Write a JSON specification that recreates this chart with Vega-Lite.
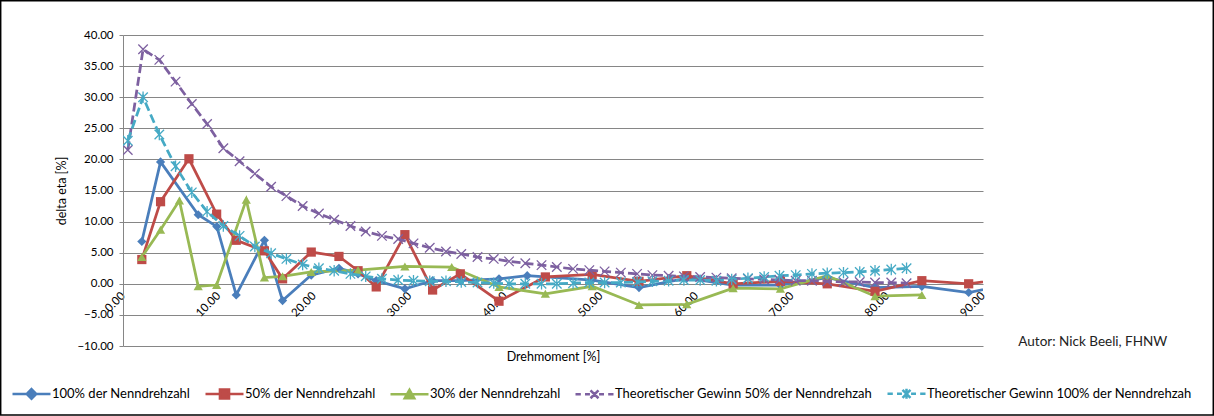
{
  "$schema": "https://vega.github.io/schema/vega-lite/v6.json",
  "width": 860,
  "height": 311,
  "autosize": {"type": "none"},
  "padding": {"left": 123, "top": 35, "right": 231, "bottom": 70},
  "background": "white",
  "config": {
    "font": "Lato",
    "view": {"stroke": null},
    "axis": {"labelColor": "#000", "titleColor": "#000", "titleFontWeight": "normal", "labelOverlap": false, "labelFlush": false, "labelBound": false}
  },
  "datasets": {
    "meas": [
      {"s": "100% der Nenndrehzahl", "x": 1.97, "y": 6.8},
      {"s": "100% der Nenndrehzahl", "x": 3.93, "y": 19.6},
      {"s": "100% der Nenndrehzahl", "x": 7.87, "y": 11.1},
      {"s": "100% der Nenndrehzahl", "x": 9.82, "y": 9.2},
      {"s": "100% der Nenndrehzahl", "x": 11.85, "y": -1.8},
      {"s": "100% der Nenndrehzahl", "x": 14.8, "y": 7.0},
      {"s": "100% der Nenndrehzahl", "x": 16.7, "y": -2.7},
      {"s": "100% der Nenndrehzahl", "x": 19.7, "y": 1.4},
      {"s": "100% der Nenndrehzahl", "x": 22.6, "y": 2.5},
      {"s": "100% der Nenndrehzahl", "x": 24.6, "y": 1.6},
      {"s": "100% der Nenndrehzahl", "x": 26.5, "y": 0.5},
      {"s": "100% der Nenndrehzahl", "x": 29.5, "y": -0.8},
      {"s": "100% der Nenndrehzahl", "x": 32.4, "y": 0.5},
      {"s": "100% der Nenndrehzahl", "x": 35.3, "y": 0.5},
      {"s": "100% der Nenndrehzahl", "x": 39.35, "y": 0.8},
      {"s": "100% der Nenndrehzahl", "x": 42.3, "y": 1.3},
      {"s": "100% der Nenndrehzahl", "x": 49.1, "y": 0.6},
      {"s": "100% der Nenndrehzahl", "x": 54.0, "y": -0.6},
      {"s": "100% der Nenndrehzahl", "x": 59.0, "y": 0.9},
      {"s": "100% der Nenndrehzahl", "x": 63.85, "y": -0.2},
      {"s": "100% der Nenndrehzahl", "x": 68.8, "y": -0.2},
      {"s": "100% der Nenndrehzahl", "x": 73.7, "y": 1.0},
      {"s": "100% der Nenndrehzahl", "x": 78.7, "y": -0.6},
      {"s": "100% der Nenndrehzahl", "x": 83.6, "y": -0.4},
      {"s": "100% der Nenndrehzahl", "x": 88.5, "y": -1.4},
      {"s": "100% der Nenndrehzahl", "x": 93.4, "y": 0.1},
      {"s": "50% der Nenndrehzahl", "x": 1.97, "y": 3.9},
      {"s": "50% der Nenndrehzahl", "x": 3.93, "y": 13.2},
      {"s": "50% der Nenndrehzahl", "x": 6.9, "y": 20.1},
      {"s": "50% der Nenndrehzahl", "x": 9.8, "y": 11.2},
      {"s": "50% der Nenndrehzahl", "x": 11.85, "y": 7.0},
      {"s": "50% der Nenndrehzahl", "x": 14.8, "y": 5.3},
      {"s": "50% der Nenndrehzahl", "x": 16.7, "y": 0.8},
      {"s": "50% der Nenndrehzahl", "x": 19.7, "y": 5.1},
      {"s": "50% der Nenndrehzahl", "x": 22.6, "y": 4.4},
      {"s": "50% der Nenndrehzahl", "x": 24.6, "y": 2.1},
      {"s": "50% der Nenndrehzahl", "x": 26.5, "y": -0.5},
      {"s": "50% der Nenndrehzahl", "x": 29.5, "y": 7.9},
      {"s": "50% der Nenndrehzahl", "x": 32.4, "y": -1.0},
      {"s": "50% der Nenndrehzahl", "x": 35.3, "y": 1.6},
      {"s": "50% der Nenndrehzahl", "x": 39.35, "y": -2.8},
      {"s": "50% der Nenndrehzahl", "x": 44.2, "y": 1.1},
      {"s": "50% der Nenndrehzahl", "x": 49.1, "y": 1.5},
      {"s": "50% der Nenndrehzahl", "x": 54.0, "y": 0.4},
      {"s": "50% der Nenndrehzahl", "x": 59.0, "y": 1.3},
      {"s": "50% der Nenndrehzahl", "x": 63.85, "y": 0.0},
      {"s": "50% der Nenndrehzahl", "x": 68.8, "y": 0.4},
      {"s": "50% der Nenndrehzahl", "x": 73.7, "y": 0.0},
      {"s": "50% der Nenndrehzahl", "x": 78.7, "y": -1.2},
      {"s": "50% der Nenndrehzahl", "x": 83.6, "y": 0.5},
      {"s": "50% der Nenndrehzahl", "x": 88.5, "y": 0.0},
      {"s": "50% der Nenndrehzahl", "x": 93.4, "y": 1.0},
      {"s": "30% der Nenndrehzahl", "x": 1.97, "y": 4.3},
      {"s": "30% der Nenndrehzahl", "x": 3.93, "y": 8.7},
      {"s": "30% der Nenndrehzahl", "x": 5.9, "y": 13.4},
      {"s": "30% der Nenndrehzahl", "x": 7.87, "y": -0.4},
      {"s": "30% der Nenndrehzahl", "x": 9.8, "y": -0.2},
      {"s": "30% der Nenndrehzahl", "x": 12.9, "y": 13.5},
      {"s": "30% der Nenndrehzahl", "x": 14.8, "y": 1.0},
      {"s": "30% der Nenndrehzahl", "x": 16.7, "y": 1.2},
      {"s": "30% der Nenndrehzahl", "x": 19.7, "y": 1.9},
      {"s": "30% der Nenndrehzahl", "x": 24.6, "y": 2.2},
      {"s": "30% der Nenndrehzahl", "x": 29.5, "y": 2.8},
      {"s": "30% der Nenndrehzahl", "x": 34.4, "y": 2.7},
      {"s": "30% der Nenndrehzahl", "x": 39.35, "y": -0.5},
      {"s": "30% der Nenndrehzahl", "x": 44.2, "y": -1.6},
      {"s": "30% der Nenndrehzahl", "x": 49.1, "y": -0.4},
      {"s": "30% der Nenndrehzahl", "x": 54.0, "y": -3.4},
      {"s": "30% der Nenndrehzahl", "x": 59.0, "y": -3.3},
      {"s": "30% der Nenndrehzahl", "x": 63.85, "y": -0.7},
      {"s": "30% der Nenndrehzahl", "x": 68.8, "y": -0.8},
      {"s": "30% der Nenndrehzahl", "x": 73.7, "y": 1.3},
      {"s": "30% der Nenndrehzahl", "x": 78.7, "y": -2.0},
      {"s": "30% der Nenndrehzahl", "x": 83.6, "y": -1.8}
    ],
    "theo": [
      {"x": 0.5, "Theoretischer Gewinn 50% der Nenndrehzah": 21.5, "Theoretischer Gewinn 100% der Nenndrehzah": 23.0},
      {"x": 2.1, "Theoretischer Gewinn 50% der Nenndrehzah": 37.7, "Theoretischer Gewinn 100% der Nenndrehzah": 30.0},
      {"x": 3.8, "Theoretischer Gewinn 50% der Nenndrehzah": 36.0, "Theoretischer Gewinn 100% der Nenndrehzah": 24.0},
      {"x": 5.5, "Theoretischer Gewinn 50% der Nenndrehzah": 32.5, "Theoretischer Gewinn 100% der Nenndrehzah": 18.9},
      {"x": 7.2, "Theoretischer Gewinn 50% der Nenndrehzah": 28.9, "Theoretischer Gewinn 100% der Nenndrehzah": 14.7},
      {"x": 8.8, "Theoretischer Gewinn 50% der Nenndrehzah": 25.7, "Theoretischer Gewinn 100% der Nenndrehzah": 11.6},
      {"x": 10.5, "Theoretischer Gewinn 50% der Nenndrehzah": 21.8, "Theoretischer Gewinn 100% der Nenndrehzah": 9.3},
      {"x": 12.2, "Theoretischer Gewinn 50% der Nenndrehzah": 19.7, "Theoretischer Gewinn 100% der Nenndrehzah": 7.7},
      {"x": 13.8, "Theoretischer Gewinn 50% der Nenndrehzah": 17.7, "Theoretischer Gewinn 100% der Nenndrehzah": 6.0},
      {"x": 15.5, "Theoretischer Gewinn 50% der Nenndrehzah": 15.6, "Theoretischer Gewinn 100% der Nenndrehzah": 4.9},
      {"x": 17.1, "Theoretischer Gewinn 50% der Nenndrehzah": 14.1, "Theoretischer Gewinn 100% der Nenndrehzah": 4.0},
      {"x": 18.8, "Theoretischer Gewinn 50% der Nenndrehzah": 12.5, "Theoretischer Gewinn 100% der Nenndrehzah": 3.1},
      {"x": 20.5, "Theoretischer Gewinn 50% der Nenndrehzah": 11.3, "Theoretischer Gewinn 100% der Nenndrehzah": 2.5},
      {"x": 22.1, "Theoretischer Gewinn 50% der Nenndrehzah": 10.3, "Theoretischer Gewinn 100% der Nenndrehzah": 2.1},
      {"x": 23.8, "Theoretischer Gewinn 50% der Nenndrehzah": 9.3, "Theoretischer Gewinn 100% der Nenndrehzah": 1.6},
      {"x": 25.4, "Theoretischer Gewinn 50% der Nenndrehzah": 8.4, "Theoretischer Gewinn 100% der Nenndrehzah": 1.2},
      {"x": 27.1, "Theoretischer Gewinn 50% der Nenndrehzah": 7.7, "Theoretischer Gewinn 100% der Nenndrehzah": 0.8},
      {"x": 28.8, "Theoretischer Gewinn 50% der Nenndrehzah": 7.2, "Theoretischer Gewinn 100% der Nenndrehzah": 0.6},
      {"x": 30.4, "Theoretischer Gewinn 50% der Nenndrehzah": 6.5, "Theoretischer Gewinn 100% der Nenndrehzah": 0.5},
      {"x": 32.1, "Theoretischer Gewinn 50% der Nenndrehzah": 5.8, "Theoretischer Gewinn 100% der Nenndrehzah": 0.4},
      {"x": 33.8, "Theoretischer Gewinn 50% der Nenndrehzah": 5.2, "Theoretischer Gewinn 100% der Nenndrehzah": 0.4},
      {"x": 35.4, "Theoretischer Gewinn 50% der Nenndrehzah": 4.8, "Theoretischer Gewinn 100% der Nenndrehzah": 0.3},
      {"x": 37.1, "Theoretischer Gewinn 50% der Nenndrehzah": 4.3, "Theoretischer Gewinn 100% der Nenndrehzah": 0.2},
      {"x": 38.8, "Theoretischer Gewinn 50% der Nenndrehzah": 4.0, "Theoretischer Gewinn 100% der Nenndrehzah": 0.1},
      {"x": 40.4, "Theoretischer Gewinn 50% der Nenndrehzah": 3.6, "Theoretischer Gewinn 100% der Nenndrehzah": 0.0},
      {"x": 42.1, "Theoretischer Gewinn 50% der Nenndrehzah": 3.3, "Theoretischer Gewinn 100% der Nenndrehzah": 0.0},
      {"x": 43.8, "Theoretischer Gewinn 50% der Nenndrehzah": 3.0, "Theoretischer Gewinn 100% der Nenndrehzah": 0.0},
      {"x": 45.4, "Theoretischer Gewinn 50% der Nenndrehzah": 2.7, "Theoretischer Gewinn 100% der Nenndrehzah": 0.0},
      {"x": 47.1, "Theoretischer Gewinn 50% der Nenndrehzah": 2.4, "Theoretischer Gewinn 100% der Nenndrehzah": 0.1},
      {"x": 48.8, "Theoretischer Gewinn 50% der Nenndrehzah": 2.2, "Theoretischer Gewinn 100% der Nenndrehzah": 0.2},
      {"x": 50.4, "Theoretischer Gewinn 50% der Nenndrehzah": 2.0, "Theoretischer Gewinn 100% der Nenndrehzah": 0.2},
      {"x": 52.1, "Theoretischer Gewinn 50% der Nenndrehzah": 1.8, "Theoretischer Gewinn 100% der Nenndrehzah": 0.2},
      {"x": 53.8, "Theoretischer Gewinn 50% der Nenndrehzah": 1.6, "Theoretischer Gewinn 100% der Nenndrehzah": 0.3},
      {"x": 55.4, "Theoretischer Gewinn 50% der Nenndrehzah": 1.4, "Theoretischer Gewinn 100% der Nenndrehzah": 0.4},
      {"x": 57.1, "Theoretischer Gewinn 50% der Nenndrehzah": 1.3, "Theoretischer Gewinn 100% der Nenndrehzah": 0.5},
      {"x": 58.7, "Theoretischer Gewinn 50% der Nenndrehzah": 1.2, "Theoretischer Gewinn 100% der Nenndrehzah": 0.6},
      {"x": 60.4, "Theoretischer Gewinn 50% der Nenndrehzah": 1.1, "Theoretischer Gewinn 100% der Nenndrehzah": 0.6},
      {"x": 62.1, "Theoretischer Gewinn 50% der Nenndrehzah": 1.0, "Theoretischer Gewinn 100% der Nenndrehzah": 0.5},
      {"x": 63.7, "Theoretischer Gewinn 50% der Nenndrehzah": 0.9, "Theoretischer Gewinn 100% der Nenndrehzah": 0.7},
      {"x": 65.4, "Theoretischer Gewinn 50% der Nenndrehzah": 0.8, "Theoretischer Gewinn 100% der Nenndrehzah": 0.9},
      {"x": 67.1, "Theoretischer Gewinn 50% der Nenndrehzah": 0.7, "Theoretischer Gewinn 100% der Nenndrehzah": 1.1},
      {"x": 68.7, "Theoretischer Gewinn 50% der Nenndrehzah": 0.6, "Theoretischer Gewinn 100% der Nenndrehzah": 1.3},
      {"x": 70.4, "Theoretischer Gewinn 50% der Nenndrehzah": 0.5, "Theoretischer Gewinn 100% der Nenndrehzah": 1.4},
      {"x": 72.1, "Theoretischer Gewinn 50% der Nenndrehzah": 0.5, "Theoretischer Gewinn 100% der Nenndrehzah": 1.6},
      {"x": 73.7, "Theoretischer Gewinn 50% der Nenndrehzah": 0.4, "Theoretischer Gewinn 100% der Nenndrehzah": 1.7},
      {"x": 75.4, "Theoretischer Gewinn 50% der Nenndrehzah": 0.3, "Theoretischer Gewinn 100% der Nenndrehzah": 1.8},
      {"x": 77.1, "Theoretischer Gewinn 50% der Nenndrehzah": 0.3, "Theoretischer Gewinn 100% der Nenndrehzah": 1.9},
      {"x": 78.7, "Theoretischer Gewinn 50% der Nenndrehzah": 0.2, "Theoretischer Gewinn 100% der Nenndrehzah": 2.1},
      {"x": 80.4, "Theoretischer Gewinn 50% der Nenndrehzah": 0.2, "Theoretischer Gewinn 100% der Nenndrehzah": 2.3},
      {"x": 82.0, "Theoretischer Gewinn 50% der Nenndrehzah": 0.1, "Theoretischer Gewinn 100% der Nenndrehzah": 2.5}
    ]
  },
  "layer": [
    {
      "data": {"name": "meas"},
      "mark": {"type": "line", "strokeWidth": 2.75, "clip": true},
      "encoding": {
        "x": {"field": "x", "type": "quantitative", "scale": {"domain": [0, 90], "nice": false, "zero": false},
          "axis": {"orient": "bottom", "offset": -62, "values": [0, 10, 20, 30, 40, 50, 60, 70, 80, 90], "tickCount": 20, "format": ".2f",
            "labelAngle": -45, "labelAlign": "right", "labelBaseline": "middle", "labelPadding": 10, "labelFlush": false,
            "labelOverlap": false, "labelBound": false, "labelFontSize": 11.5, "grid": false, "domain": false, "ticks": false,
            "title": "Drehmoment [%]", "titleY": 72, "titleBaseline": "middle", "titleFontSize": 12.5}},
        "y": {"field": "y", "type": "quantitative", "scale": {"domain": [-10, 40], "nice": false, "zero": false},
          "axis": {"orient": "left", "values": [-10, -5, 0, 5, 10, 15, 20, 25, 30, 35, 40], "tickCount": 20, "format": ".2f",
            "labelFontSize": 11.5, "labelPadding": 6, "labelFlush": false, "labelOverlap": false, "labelBound": false,
            "grid": true, "gridColor": "#868686", "gridWidth": 1, "domain": true, "domainColor": "#868686", "domainWidth": 1,
            "ticks": true, "tickSize": 4, "tickColor": "#868686",
            "title": "delta eta [%]", "titleX": -62, "titleY": 155.5, "titleAlign": "center", "titleBaseline": "middle", "titleFontSize": 12.5}},
        "color": {"field": "s", "type": "nominal",
          "scale": {"domain": ["100% der Nenndrehzahl", "50% der Nenndrehzahl", "30% der Nenndrehzahl", "Theoretischer Gewinn 50% der Nenndrehzah", "Theoretischer Gewinn 100% der Nenndrehzah"],
            "range": ["#4A7EBB", "#BE4B48", "#98B954", "#7D60A0", "#46AAC5"]}}
      }
    },
    {
      "data": {"values": [{}]},
      "mark": {"type": "rect", "filled": false, "stroke": "#000", "strokeWidth": 1.5},
      "encoding": {
        "x": {"datum": -12.8, "type": "quantitative", "scale": {"domain": [0, 90]}},
        "x2": {"datum": 114.1},
        "y": {"datum": 45.5, "type": "quantitative", "scale": {"domain": [-10, 40]}},
        "y2": {"datum": -21.1}
      }
    },
    {
      "data": {"name": "meas"},
      "mark": {"type": "point", "filled": true, "size": 85, "opacity": 1, "clip": true},
      "encoding": {
        "x": {"field": "x", "type": "quantitative", "scale": {"domain": [0, 90]}},
        "y": {"field": "y", "type": "quantitative", "scale": {"domain": [-10, 40]}},
        "color": {"field": "s", "type": "nominal",
          "scale": {"domain": ["100% der Nenndrehzahl", "50% der Nenndrehzahl", "30% der Nenndrehzahl", "Theoretischer Gewinn 50% der Nenndrehzah", "Theoretischer Gewinn 100% der Nenndrehzah"],
            "range": ["#4A7EBB", "#BE4B48", "#98B954", "#7D60A0", "#46AAC5"]},
          "legend": {
            "title": null, "orient": "none", "direction": "horizontal", "columns": 5,
            "legendX": -112, "legendY": 338, "symbolSize": 1444, "symbolStrokeWidth": 2.5,
            "labelFontSize": 13, "labelLimit": 400, "labelOffset": 0, "labelColor": "#000",
            "columnPadding": 9, "padding": 0, "symbolOpacity": 1,
            "encode": {"symbols": {"update": {
              "shape": {"signal": "datum.value === '100% der Nenndrehzahl' ? 'M-1,0H1M0,-0.25L0.25,0L0,0.25L-0.25,0Z' : datum.value === '50% der Nenndrehzahl' ? 'M-1,0H1M-0.24,-0.24H0.24V0.24H-0.24Z' : datum.value === '30% der Nenndrehzahl' ? 'M-1,0H1M0,-0.24L0.25,0.2H-0.25Z' : datum.value === 'Theoretischer Gewinn 50% der Nenndrehzah' ? 'M-1,0H-0.72M-0.5,0H-0.24M-0.21,-0.21L0.21,0.21M-0.21,0.21L0.21,-0.21M0.24,0H0.5M0.72,0H1' : 'M-1,0H-0.72M-0.5,0H-0.24M-0.21,-0.21L0.21,0.21M-0.21,0.21L0.21,-0.21M0,-0.26V0.26M0.24,0H0.5M0.72,0H1'"},
              "fill": {"scale": "color", "field": "value"},
              "stroke": {"scale": "color", "field": "value"},
              "opacity": {"value": 1},
              "strokeDash": {"value": []},
              "strokeWidth": {"value": 2.5}
            }}}
          }},
        "shape": {"field": "s", "type": "nominal", "legend": null,
          "scale": {"domain": ["Theoretischer Gewinn 100% der Nenndrehzah", "Theoretischer Gewinn 50% der Nenndrehzah", "30% der Nenndrehzahl", "50% der Nenndrehzahl", "100% der Nenndrehzahl"],
            "range": ["M-1,-1L1,1M-1,1L1,-1M0,-1.2V1.2", "M-1,-1L1,1M-1,1L1,-1", "triangle-up", "square", "diamond"]}}
      }
    },
    {
      "data": {"name": "theo"},
      "transform": [{"fold": ["Theoretischer Gewinn 50% der Nenndrehzah", "Theoretischer Gewinn 100% der Nenndrehzah"], "as": ["s", "y"]}],
      "mark": {"type": "line", "strokeWidth": 2.75, "strokeDash": [9, 4], "clip": true},
      "encoding": {
        "x": {"field": "x", "type": "quantitative", "scale": {"domain": [0, 90]}},
        "y": {"field": "y", "type": "quantitative", "scale": {"domain": [-10, 40]}},
        "color": {"field": "s", "type": "nominal",
          "scale": {"domain": ["100% der Nenndrehzahl", "50% der Nenndrehzahl", "30% der Nenndrehzahl", "Theoretischer Gewinn 50% der Nenndrehzah", "Theoretischer Gewinn 100% der Nenndrehzah"],
            "range": ["#4A7EBB", "#BE4B48", "#98B954", "#7D60A0", "#46AAC5"]}}
      }
    },
    {
      "data": {"name": "theo"},
      "transform": [{"fold": ["Theoretischer Gewinn 50% der Nenndrehzah", "Theoretischer Gewinn 100% der Nenndrehzah"], "as": ["s", "y"]}],
      "mark": {"type": "point", "filled": false, "size": 90, "strokeWidth": 1.3, "opacity": 1, "clip": true},
      "encoding": {
        "x": {"field": "x", "type": "quantitative", "scale": {"domain": [0, 90]}},
        "y": {"field": "y", "type": "quantitative", "scale": {"domain": [-10, 40]}},
        "color": {"field": "s", "type": "nominal",
          "scale": {"domain": ["100% der Nenndrehzahl", "50% der Nenndrehzahl", "30% der Nenndrehzahl", "Theoretischer Gewinn 50% der Nenndrehzah", "Theoretischer Gewinn 100% der Nenndrehzah"],
            "range": ["#4A7EBB", "#BE4B48", "#98B954", "#7D60A0", "#46AAC5"]}},
        "shape": {"field": "s", "type": "nominal", "legend": null,
          "scale": {"domain": ["Theoretischer Gewinn 100% der Nenndrehzah", "Theoretischer Gewinn 50% der Nenndrehzah", "30% der Nenndrehzahl", "50% der Nenndrehzahl", "100% der Nenndrehzahl"],
            "range": ["M-1,-1L1,1M-1,1L1,-1M0,-1.2V1.2", "M-1,-1L1,1M-1,1L1,-1", "triangle-up", "square", "diamond"]}}
      }
    },
    {
      "data": {"values": [{"t": "Autor: Nick Beeli, FHNW"}]},
      "mark": {"type": "text", "align": "left", "baseline": "middle", "fontSize": 13.5, "color": "#222"},
      "encoding": {
        "x": {"datum": 93.7, "type": "quantitative", "scale": {"domain": [0, 90]}},
        "y": {"datum": -9.3, "type": "quantitative", "scale": {"domain": [-10, 40]}},
        "text": {"field": "t"}
      }
    }
  ]
}
